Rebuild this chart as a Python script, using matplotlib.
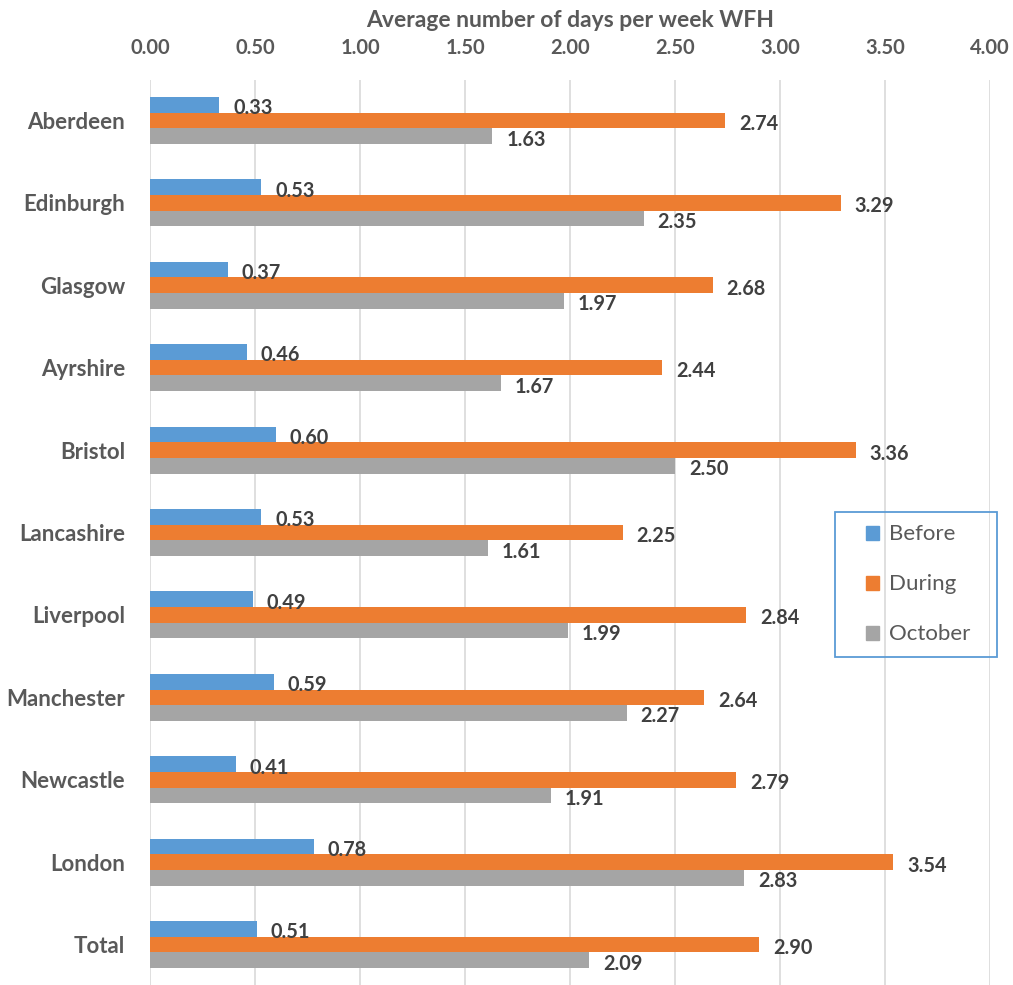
import matplotlib
matplotlib.use("Agg")
import numpy as np
from matplotlib import pyplot as plt
from matplotlib.patches import Patch, Rectangle

cities = ["Aberdeen", "Edinburgh", "Glasgow", "Ayrshire", "Bristol", "Lancashire",
          "Liverpool", "Manchester", "Newcastle", "London", "Total"]
before = [0.33, 0.53, 0.37, 0.46, 0.60, 0.53, 0.49, 0.59, 0.41, 0.78, 0.51]
during = [2.74, 3.29, 2.68, 2.44, 3.36, 2.25, 2.84, 2.64, 2.79, 3.54, 2.90]
october = [1.63, 2.35, 1.97, 1.67, 2.50, 1.61, 1.99, 2.27, 1.91, 2.83, 2.09]
series = [("Before", before, "#5B9BD5"), ("During", during, "#ED7D31"), ("October", october, "#A5A5A5")]

plt.rcParams['font.family'] = ['Lato', 'DejaVu Sans']

fig = plt.figure(figsize=(10.13, 9.85), dpi=100)
ax = fig.add_axes([150/1013, 0.0, 840/1013, 1 - 80/985])

y = np.arange(len(cities))
h = 0.19
for i, (name, vals, col) in enumerate(series):
    pos = y + (i - 1) * h
    ax.barh(pos, vals, height=h, color=col, label=name, zorder=2)
    for p, v in zip(pos, vals):
        ax.annotate(f"{v:.2f}", (v, p), xytext=(10, -2.5), textcoords="offset points",
                    ha="left", va="center", fontsize=14.3, fontweight="bold", color="#404040")

ax.set_xlim(0, 4)
ax.set_ylim(10.49, -0.49)
ax.set_xticks(np.arange(0, 4.01, 0.5))
ax.set_xticklabels([f"{t:.2f}" for t in np.arange(0, 4.01, 0.5)])
ax.set_yticks(y)
ax.set_yticklabels(cities)
ax.xaxis.tick_top()
ax.xaxis.set_label_position("top")
ax.set_xlabel("Average number of days per week WFH", fontsize=16.5, fontweight="bold",
              color="#595959", labelpad=8)
ax.tick_params(axis="x", length=0, labelsize=14.5, labelcolor="#595959", pad=16)
ax.tick_params(axis="y", length=0, labelsize=16, labelcolor="#595959", pad=18)
for lab in ax.get_xticklabels() + ax.get_yticklabels():
    lab.set_fontweight("bold")
ax.grid(axis="x", color="#D9D9D9", linewidth=1.2, zorder=0)
for s in ax.spines.values():
    s.set_visible(False)

# legend box drawn separately so the inner padding can match
bx, by, bw, bh = 835, 512, 162, 145
fig.patches.append(Rectangle((bx/1013, 1 - (by + bh)/985), bw/1013, bh/985,
                             transform=fig.transFigure, fill=False,
                             edgecolor="#5B9BD5", linewidth=1.3, zorder=5))
handles = [Patch(color=c, label=n) for n, _, c in series]
leg = fig.legend(handles=handles, loc="center",
                 bbox_to_anchor=((bx + bw/2 + 2)/1013, 1 - (by + bh/2)/985),
                 frameon=False, fontsize=16, labelcolor="#595959",
                 handlelength=0.6, handleheight=0.6, handletextpad=0.45, labelspacing=1.35,
                 borderpad=0)

fig.savefig("out.png", dpi=100)
